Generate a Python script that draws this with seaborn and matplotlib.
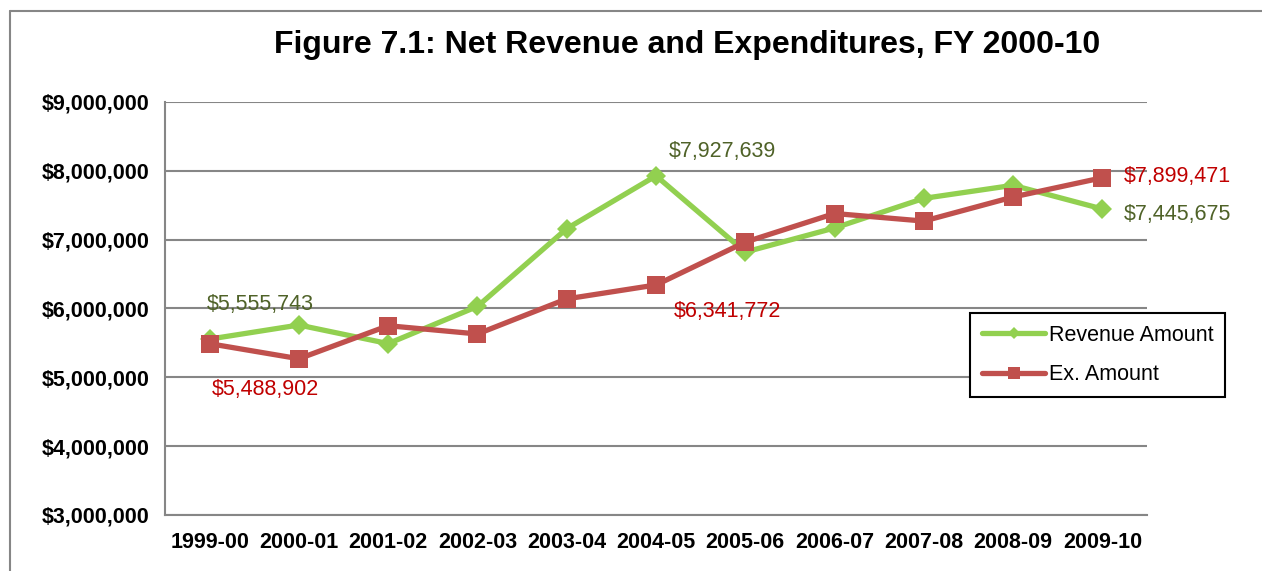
import pandas as pd
import matplotlib
matplotlib.use("Agg")
import matplotlib.pyplot as plt
import matplotlib.ticker as mtick
from matplotlib.lines import Line2D
import seaborn as sns

# chart data
years = ['1999-00', '2000-01', '2001-02', '2002-03', '2003-04', '2004-05',
         '2005-06', '2006-07', '2007-08', '2008-09', '2009-10']
revenue = [5555743, 5760000, 5490000, 6030000, 7160000, 7927639,
           6820000, 7170000, 7600000, 7790000, 7445675]
expenses = [5488902, 5270000, 5750000, 5630000, 6140000, 6341772,
            6965000, 7380000, 7270000, 7620000, 7899471]

df = pd.DataFrame({'year': years, 'revenue': revenue, 'expenses': expenses})

sns.set_style("white")
plt.rcParams['font.family'] = ['Liberation Sans', 'DejaVu Sans']
plt.rcParams['text.color'] = 'black'
plt.rcParams['xtick.labelcolor'] = 'black'
plt.rcParams['ytick.labelcolor'] = 'black'

green = '#92D050'
red = '#C0504D'
grid_gray = '#868686'

fig = plt.figure(figsize=(12.62, 5.71), dpi=100)
ax = fig.add_axes([165 / 1262, 1 - 515 / 571, (1147 - 165) / 1262, (515 - 102) / 571])

sns.lineplot(data=df, x='year', y='revenue', ax=ax, color=green, linewidth=3.8,
             marker='D', markersize=10.5, markeredgewidth=0, label='Revenue Amount', sort=False)
sns.lineplot(data=df, x='year', y='expenses', ax=ax, color=red, linewidth=3.8,
             marker='s', markersize=13.5, markeredgewidth=0, label='Ex. Amount', sort=False)

ax.set_xlim(-0.5, len(years) - 0.5)
ax.set_ylim(3000000, 9000000)
ax.yaxis.set_major_locator(mtick.MultipleLocator(1000000))
ax.yaxis.set_major_formatter(mtick.StrMethodFormatter('${x:,.0f}'))
ax.set_xlabel('')
ax.set_ylabel('')

ax.grid(axis='y', color=grid_gray, linewidth=1.5)
ax.set_axisbelow(True)
for s in ['top', 'right']:
    ax.spines[s].set_visible(False)
for s in ['left', 'bottom']:
    ax.spines[s].set_color(grid_gray)
    ax.spines[s].set_linewidth(1.5)

# category ticks sit between the categories, as in Excel
ax.set_xticks(range(len(years)))
ax.set_xticklabels(years)
ax.set_xticks([i - 0.5 for i in range(len(years) + 1)], minor=True)
ax.tick_params(axis='x', which='major', length=0, pad=12, labelsize=15.5)
ax.tick_params(axis='x', which='minor', length=6, width=1.5, color=grid_gray, direction='out')
ax.tick_params(axis='y', which='major', length=6, width=1.5, color=grid_gray, direction='out',
               labelsize=15.5, pad=5)
for lbl in ax.get_xticklabels() + ax.get_yticklabels():
    lbl.set_fontweight('bold')

# data labels
dark_green = '#4F6228'
dark_red = '#C00000'
labels = [
    (0, revenue[0], dark_green, (-3, 35)),
    (0, expenses[0], dark_red, (2, -46)),
    (5, revenue[5], dark_green, (13, 24)),
    (5, expenses[5], dark_red, (18, -27)),
    (10, expenses[10], dark_red, (21, 1)),
    (10, revenue[10], dark_green, (21, -6)),
]
for xi, val, col, off in labels:
    ax.annotate(f'${val:,.0f}', xy=(xi, val), xytext=(off[0] * 0.72, off[1] * 0.72),
                textcoords='offset points', ha='left', va='center', color=col,
                fontsize=15.5, annotation_clip=False)

fig.suptitle('Figure 7.1: Net Revenue and Expenditures, FY 2000-10', fontsize=23,
             fontweight='bold', x=687 / 1262, y=1 - 45 / 571, va='center')

leg = ax.legend(loc='upper left', bbox_to_anchor=(970 / 1262, 1 - 313 / 571),
                bbox_transform=fig.transFigure, fontsize=15.5, frameon=True, fancybox=False,
                edgecolor='black', framealpha=1, handlelength=2.95, handletextpad=0.15,
                labelspacing=0.85, borderpad=0.55, borderaxespad=0)
leg.get_frame().set_linewidth(1.5)
for h in leg.legend_handles:
    h.set_markersize(h.get_markersize() * 0.6)

# outer chart border
fig.add_artist(Line2D([10 / 1262, 1], [1 - 11 / 571, 1 - 11 / 571], color=grid_gray, linewidth=1.5))
fig.add_artist(Line2D([10 / 1262, 10 / 1262], [0, 1 - 11 / 571], color=grid_gray, linewidth=1.5))

plt.savefig('out.png', dpi=100)
